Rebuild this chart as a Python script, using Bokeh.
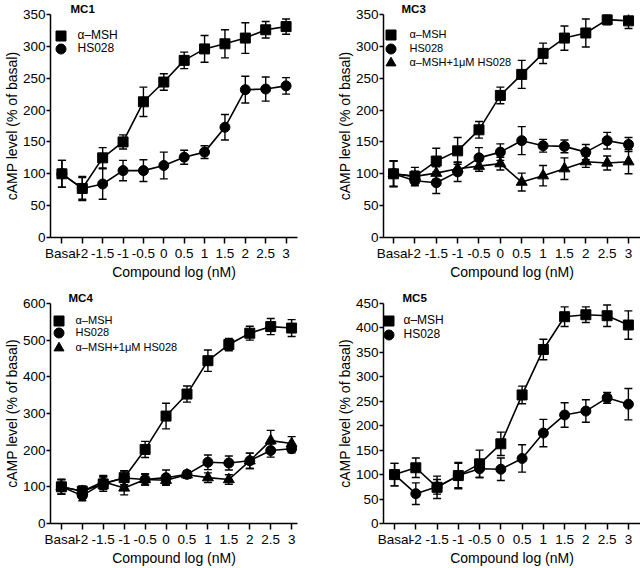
from bokeh.plotting import figure
from bokeh.models import (Range1d, FixedTicker, ColumnDataSource, Whisker, TeeHead,
                          Legend, LegendItem)
from bokeh.layouts import gridplot
from bokeh.embed import file_html
from bokeh.resources import INLINE

FONT = "Liberation Sans"

# ---------------- data ----------------
x_labels = ["Basal", "-2", "-1.5", "-1", "-0.5", "0", "0.5", "1", "1.5", "2", "2.5", "3"]
x_pos = list(range(len(x_labels)))

series_names = ["\u03b1\u2013MSH", "HS028", "\u03b1\u2013MSH+1\u03bcM HS028"]

mc1_msh = [100, 77, 125, 150, 213, 244, 278, 296, 304, 313, 326, 331]
mc1_msh_err = [21, 19, 16, 11, 23, 13, 13, 21, 22, 24, 13, 12]
mc1_hs = [100, 77, 84, 105, 105, 113, 126, 134, 173, 232, 233, 238]
mc1_hs_err = [21, 17, 24, 16, 17, 21, 11, 10, 20, 21, 19, 13]

mc3_msh = [100, 96, 120, 136, 169, 223, 256, 289, 313, 321, 342, 340]
mc3_msh_err = [20, 14, 20, 21, 13, 13, 22, 16, 19, 22, 8, 12]
mc3_hs = [100, 89, 86, 103, 125, 134, 152, 144, 143, 134, 152, 146]
mc3_hs_err = [20, 8, 17, 15, 16, 13, 22, 10, 10, 12, 13, 11]
mc3_comb = [100, 96, 101, 108, 112, 116, 87, 97, 108, 119, 117, 119]
mc3_comb_err = [20, 8, 10, 10, 8, 10, 14, 16, 17, 9, 11, 19]

mc4_msh = [100, 88, 108, 125, 202, 293, 353, 444, 488, 519, 537, 533]
mc4_msh_err = [20, 14, 20, 19, 22, 35, 22, 29, 17, 19, 22, 23]
mc4_hs = [100, 76, 110, 124, 120, 125, 134, 167, 165, 171, 199, 204]
mc4_hs_err = [20, 14, 17, 19, 15, 21, 10, 20, 19, 21, 18, 11]
mc4_comb = [100, 88, 114, 97, 120, 118, 133, 125, 120, 171, 226, 218]
mc4_comb_err = [20, 14, 17, 19, 15, 12, 10, 13, 13, 21, 28, 19]

mc5_msh = [100, 114, 74, 98, 122, 163, 263, 356, 423, 427, 425, 406]
mc5_msh_err = [23, 20, 23, 27, 28, 24, 18, 21, 20, 16, 22, 29]
mc5_hs = [100, 61, 75, 98, 112, 111, 133, 185, 222, 230, 257, 244]
mc5_hs_err = [23, 22, 15, 25, 18, 23, 28, 28, 25, 23, 11, 32]

markers = ["square", "circle", "triangle"]
marker_sizes = [10, 10, 11]


def make_panel(title, series, ymax, ystep, width, height, borders, xr,
               title_x, leg_x, leg_rows, leg_standoff, leg_font):
    bl, br, bt, bb = borders
    p = figure(width=width, height=height, output_backend="svg", toolbar_location=None,
               x_range=Range1d(*xr), y_range=Range1d(0, ymax),
               min_border_left=bl, min_border_right=br, min_border_top=bt,
               min_border_bottom=bb)
    p.grid.visible = False
    p.outline_line_color = None
    p.background_fill_color = "white"
    p.border_fill_color = "white"

    p.title.text = title
    p.title.align = "left"
    p.title.offset = title_x
    p.title.standoff = 0
    p.title.text_font = FONT
    p.title.text_font_style = "bold"
    p.title.text_font_size = "11.5px"
    p.title.text_color = "black"

    for ax in (p.xaxis[0], p.yaxis[0]):
        ax.axis_line_width = 1.5
        ax.axis_line_color = "black"
        ax.major_tick_line_width = 1.5
        ax.major_tick_line_color = "black"
        ax.major_tick_in = 0
        ax.minor_tick_out = 0
        ax.minor_tick_in = 0
        ax.major_label_text_font = FONT
        ax.major_label_text_font_size = "13.5px"
        ax.major_label_text_color = "black"
        ax.axis_label_text_font = FONT
        ax.axis_label_text_font_style = "normal"
        ax.axis_label_text_color = "black"

    p.xaxis.ticker = FixedTicker(ticks=x_pos)
    p.xaxis.major_label_overrides = {i: lab for i, lab in zip(x_pos, x_labels)}
    p.xaxis.axis_label = "Compound log (nM)"
    p.xaxis.axis_label_text_font_size = "14px"
    p.xaxis.major_tick_out = 6
    p.xaxis.major_label_standoff = 2
    p.xaxis.axis_label_standoff = 0
    p.yaxis.ticker = FixedTicker(ticks=list(range(0, ymax + 1, ystep)))
    p.yaxis.axis_label = "cAMP level (% of basal)"
    p.yaxis.axis_label_text_font_size = "14px"
    p.yaxis.major_tick_out = 4
    p.yaxis.major_label_standoff = 1
    p.yaxis.axis_label_standoff = 0

    renderers = []
    for i, (vals, errs) in enumerate(series):
        src = ColumnDataSource(dict(x=x_pos, y=vals,
                                    lo=[v - e for v, e in zip(vals, errs)],
                                    hi=[v + e for v, e in zip(vals, errs)]))
        p.line("x", "y", source=src, line_color="black", line_width=1.6)
        w = Whisker(base="x", upper="hi", lower="lo", source=src,
                    line_color="black", line_width=1.4, level="underlay",
                    upper_head=TeeHead(size=8, line_width=1.4, line_color="black"),
                    lower_head=TeeHead(size=8, line_width=1.4, line_color="black"))
        p.add_layout(w)
        renderers.append((i, src))
    scat = []
    for i, src in reversed(renderers):
        r = p.scatter("x", "y", source=src, marker=markers[i], size=marker_sizes[i],
                      fill_color="black", line_color="black")
        scat.append((i, r))
    scat.sort()

    # legends: one per entry so the legend marker can be full size
    fh = height - bt - bb
    G = 25
    for (i, r), d in zip(scat, leg_rows):
        leg = Legend(items=[LegendItem(label=series_names[i], renderers=[r])],
                     location=(leg_x - G / 2, fh - d - G / 2),
                     background_fill_alpha=0, border_line_alpha=0, padding=0, margin=0,
                     spacing=0, glyph_width=G, glyph_height=G, label_height=G,
                     label_standoff=leg_standoff, label_text_font=FONT,
                     label_text_font_size=leg_font, label_text_color="black",
                     label_text_baseline="middle")
        p.add_layout(leg)
    return p


p1 = make_panel("MC1", [(mc1_msh, mc1_msh_err), (mc1_hs, mc1_hs_err)], 350, 50,
                320, 284, (45, 15, 14, 47), (-0.56, 11.56), 20,
                10, [21, 34], 5, "12px")
p3 = make_panel("MC3", [(mc3_msh, mc3_msh_err), (mc3_hs, mc3_hs_err), (mc3_comb, mc3_comb_err)],
                350, 50, 320, 284, (62, 0, 14, 47), (-0.47, 11.56), 18,
                7, [20, 34, 48], 7, "11px")
p4 = make_panel("MC4", [(mc4_msh, mc4_msh_err), (mc4_hs, mc4_hs_err), (mc4_comb, mc4_comb_err)],
                600, 100, 320, 284, (47, 23, 17, 42), (-0.52, 11.28), 18,
                8, [22, 34, 49], 5, "11px")
p5 = make_panel("MC5", [(mc5_msh, mc5_msh_err), (mc5_hs, mc5_hs_err)],
                450, 50, 320, 284, (63, 0, 19, 42), (-0.52, 11.57), 19,
                5, [20, 34], 3, "12px")

grid = gridplot([[p1, p3], [p4, p5]], toolbar_location=None)

open("out.html", "w").write(file_html(grid, INLINE))
